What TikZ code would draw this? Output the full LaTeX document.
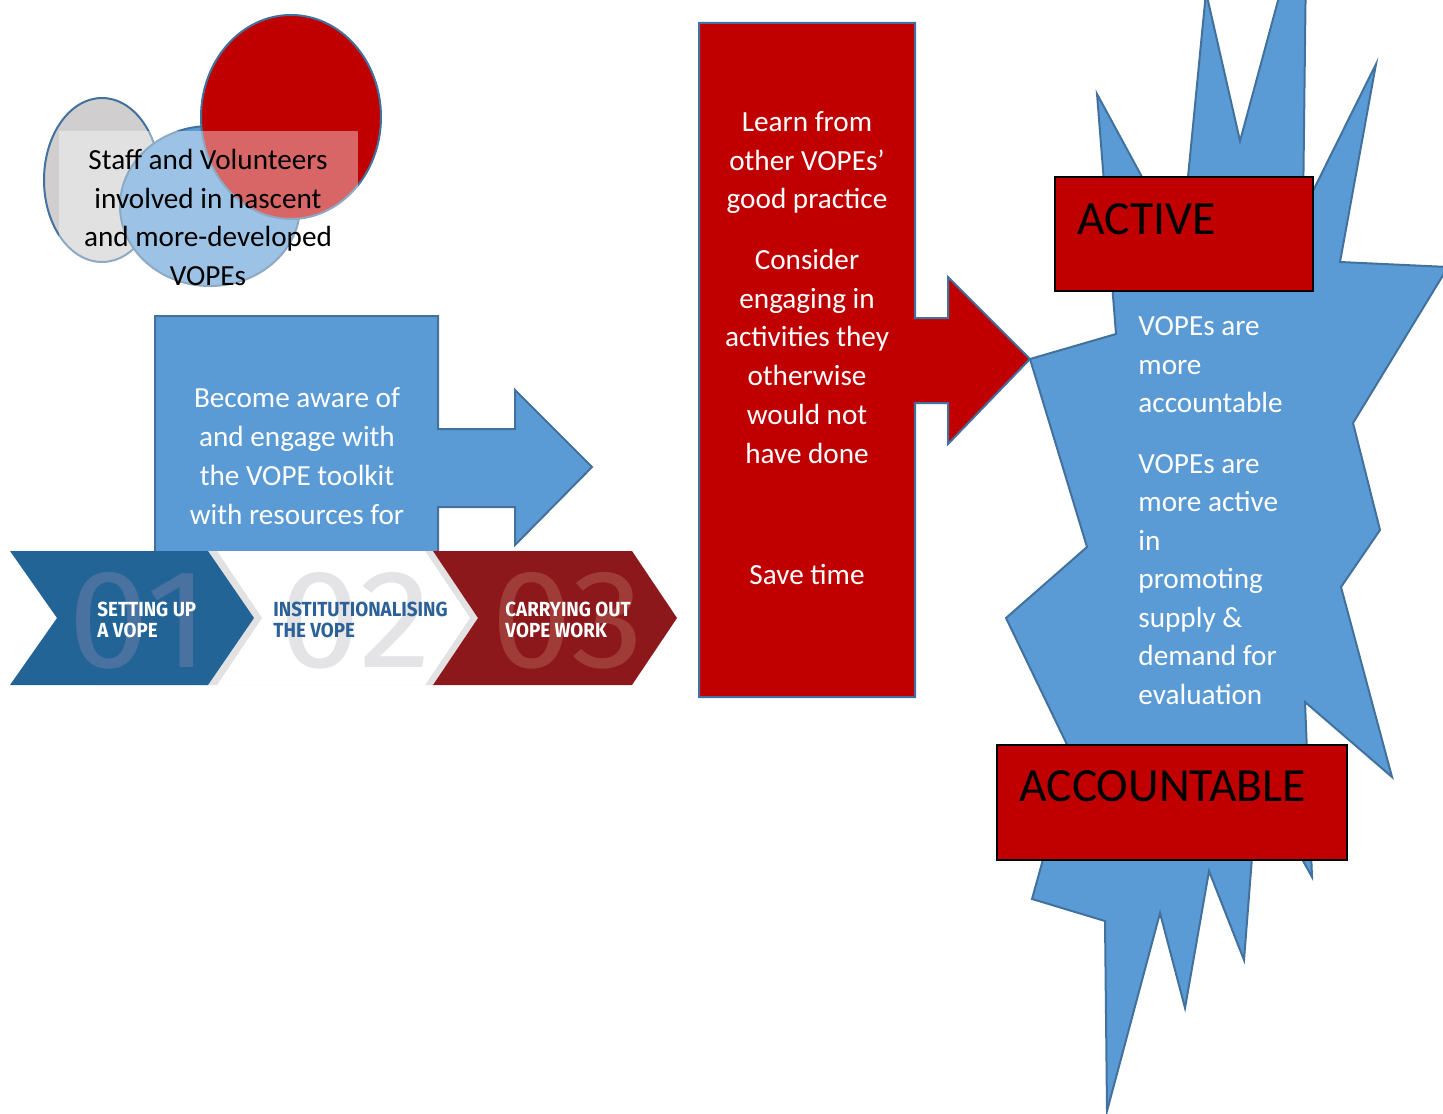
\documentclass[tikz,border=0pt]{standalone}
\usepackage{fontspec}
\setmainfont{Carlito}
\newfontfamily\chevfont[FakeStretch=0.92]{Fira Sans}
\newfontfamily\digfont[FakeStretch=1.04]{Fira Sans}
\definecolor{obl}{HTML}{5B9BD5}
\definecolor{obd}{HTML}{41719C}
\definecolor{ored}{HTML}{C00000}
\definecolor{ogray}{HTML}{D0CECE}
\definecolor{chblue}{HTML}{236496}
\definecolor{chred}{HTML}{8C181C}
\definecolor{chshadow}{HTML}{E2E2E2}
\definecolor{dblue}{HTML}{4A72A0}
\definecolor{dgray}{HTML}{E4E4E6}
\definecolor{dred}{HTML}{A03C38}
\definecolor{lblue}{HTML}{2B6196}
\tikzset{
  shapeblue/.style={fill=obl, draw=obd, line width=1pt, line join=miter},
  shapered/.style={fill=ored, draw=obd, line width=1pt, line join=miter},
  labelbox/.style={fill=ored, draw=black, line width=0.7pt},
  bodytext/.style={font=\fontsize{14.6}{19.3}\selectfont, inner sep=0pt},
  bigtext/.style={font=\fontsize{23.8}{28}\selectfont, inner sep=0pt, text=black, anchor=base west},
  chevtext/.style={font=\chevfont\bfseries\fontsize{10.2}{10.5}\selectfont, inner sep=0pt, align=left, anchor=base west},
  digtext/.style={font=\digfont\fontsize{70}{70}\selectfont, inner sep=0pt, anchor=base west},
}
\begin{document}
\begin{tikzpicture}[x=0.5pt, y=-0.5pt]
\useasboundingbox (0,0) rectangle (1443,1113);
\clip (0,0) rectangle (1443,1113);

% ---------- circles ----------
\path[fill=ogray, draw=obd, line width=1pt] (102,180) ellipse [x radius=58, y radius=82];
\path[fill=obl, draw=obd, line width=1pt] (210,206) ellipse [x radius=90, y radius=80];
\path[fill=ored, draw=obd, line width=1pt] (291,117) ellipse [x radius=90, y radius=102];
\path[fill=white, fill opacity=0.4] (59,131) rectangle (358,292);
\node[bodytext, text=black, align=center, anchor=base] (staff) at (208,285.5)
  {Staff and Volunteers\\involved in nascent\\and more-developed\\VOPEs};

% ---------- blue callout ----------
\path[shapeblue] (155,551) -- (155,316) -- (438,316) -- (438,429) -- (515,429) -- (515,390)
  -- (592,467) -- (515,545) -- (515,507) -- (438,507) -- (438,551);
\node[bodytext, text=white, align=center, anchor=base, font=\fontsize{14.6}{19.5}\selectfont] (aware) at (297,524)
  {Become aware of\\and engage with\\the VOPE toolkit\\with resources for};

% ---------- chevron banner ----------
\path[fill=chshadow] (200,551) -- (433,551) -- (478,618) -- (433,685) -- (200,685) -- cycle;
\path[fill=white] (200,551) -- (425,551) -- (470,618) -- (425,685) -- (200,685) -- cycle;
\path[fill=chshadow] (100,551) -- (217,551) -- (262,618) -- (217,685) -- (100,685) -- cycle;
\path[fill=chblue] (10,551) -- (208,551) -- (254,618) -- (208,685) -- (10,685) -- (57,618) -- cycle;
\path[fill=chred] (433,551) -- (632,551) -- (677,618) -- (632,685) -- (433,685) -- (478,618) -- cycle;
\node[digtext, text=dblue] (d1) at (68,667) {01};
\node[digtext, text=dgray] (d2) at (279,667) {02};
\node[digtext, text=dred] (d3) at (491,667) {03};
\node[chevtext, text=white] (c1) at (97,637) {SETTING UP\\A VOPE};
\node[chevtext, text=lblue] (c2) at (273,637) {INSTITUTIONALISING\\THE VOPE};
\node[chevtext, text=white] (c3) at (505,637) {CARRYING OUT\\VOPE WORK};

% ---------- star ----------
\path[shapeblue] (1030,359) -- (1116,334) -- (1097,94) -- (1181,249) -- (1206,-8) -- (1240,141)
  -- (1289,-40) -- (1306,-40) -- (1303,211) -- (1376,64) -- (1340,262) -- (1448,267)
  -- (1353,423) -- (1380,530) -- (1341,587) -- (1392,777) -- (1305,702) -- (1312,877)
  -- (1258,780) -- (1244,960) -- (1209,871) -- (1185,1008) -- (1160,913) -- (1107,1111)
  -- (1105,921) -- (1032,899) -- (1072,755) -- (1006,618) -- (1087,547) -- cycle;

% ---------- red callout ----------
\path[shapered] (699,23) -- (915,23) -- (915,318) -- (948,318) -- (948,277) -- (1030,359)
  -- (948,444) -- (948,403) -- (915,403) -- (915,697) -- (699,697) -- cycle;
\node[bodytext, text=white, align=center, anchor=base, font=\fontsize{14.6}{19.35}\selectfont] (learn) at (807,463)
  {Learn from\\other VOPEs’\\good practice\\[11pt]Consider\\engaging in\\activities they\\otherwise\\would not\\have done};
\node[bodytext, text=white, anchor=base] (save) at (807,584) {Save time};

% ---------- star texts ----------
\node[bodytext, text=white, align=left, anchor=base west, font=\fontsize{14.6}{19.25}\selectfont] (acc) at (1138,704)
  {VOPEs are\\more\\accountable\\[11pt]VOPEs are\\more active\\in\\promoting\\supply \&\\demand for\\evaluation};

% ---------- labels ----------
\path[labelbox] (1055,177) rectangle (1313,291);
\node[bigtext] (active) at (1077,234) {ACTIVE};
\path[labelbox] (997,745) rectangle (1347,860);
\node[bigtext] (accountable) at (1019,801) {ACCOUNTABLE};
\end{tikzpicture}
\end{document}
